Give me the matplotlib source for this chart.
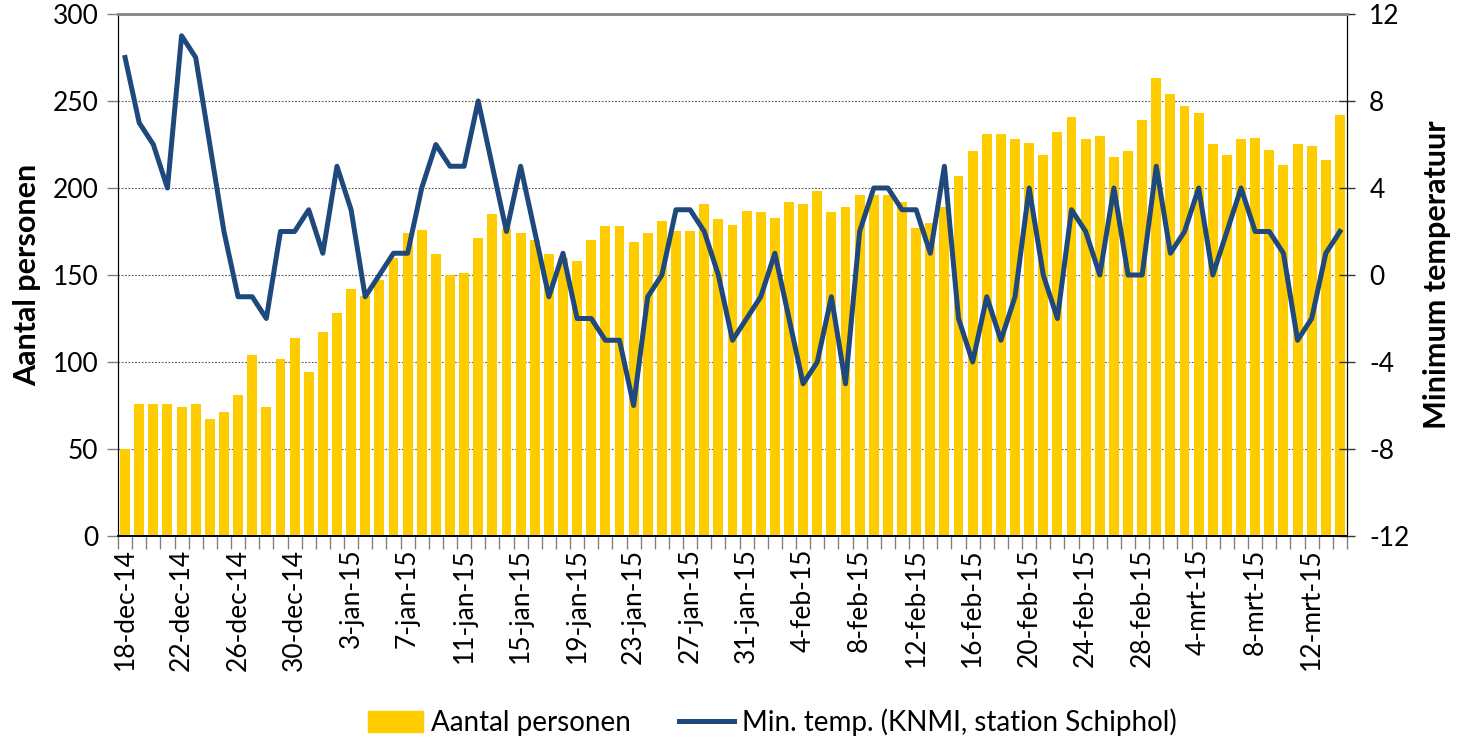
import matplotlib
matplotlib.use("Agg")
import matplotlib.pyplot as plt
import matplotlib.patches as mpatches
import matplotlib.lines as mlines
import numpy as np

plt.rcParams['font.family'] = ['Lato', 'DejaVu Sans']
plt.rcParams['axes.unicode_minus'] = False

# aantal personen per dag, 18-dec-14 t/m 14-mrt-15
personen = [50, 76, 76, 76, 74, 76, 67, 71, 81, 104,
            74, 102, 114, 94, 117, 128, 142, 138, 147, 160,
            174, 176, 162, 150, 151, 171, 185, 177, 174, 170,
            162, 160, 158, 170, 178, 178, 169, 174, 181, 175,
            175, 191, 182, 179, 187, 186, 183, 192, 191, 198,
            186, 189, 196, 196, 196, 192, 177, 180, 189, 207,
            221, 231, 231, 228, 226, 219, 232, 241, 228, 230,
            218, 221, 239, 263, 254, 247, 243, 225, 219, 228,
            229, 222, 213, 225, 224, 216, 242]

# minimum temperatuur (KNMI, Schiphol)
min_temp = [10, 7, 6, 4, 11, 10, 6, 2, -1, -1,
            -2, 2, 2, 3, 1, 5, 3, -1, 0, 1,
            1, 4, 6, 5, 5, 8, 5, 2, 5, 2,
            -1, 1, -2, -2, -3, -3, -6, -1, 0, 3,
            3, 2, 0, -3, -2, -1, 1, -2, -5, -4,
            -1, -5, 2, 4, 4, 3, 3, 1, 5, -2,
            -4, -1, -3, -1, 4, 0, -2, 3, 2, 0,
            4, 0, 0, 5, 1, 2, 4, 0, 2, 4,
            2, 2, 1, -3, -2, 1, 2]

x_labels = ["18-dec-14", "22-dec-14", "26-dec-14", "30-dec-14", "3-jan-15",
            "7-jan-15", "11-jan-15", "15-jan-15", "19-jan-15", "23-jan-15",
            "27-jan-15", "31-jan-15", "4-feb-15", "8-feb-15", "12-feb-15",
            "16-feb-15", "20-feb-15", "24-feb-15", "28-feb-15", "4-mrt-15",
            "8-mrt-15", "12-mrt-15"]

yellow = '#FFCC00'
blue = '#1F497D'

x = np.arange(len(personen))

fig = plt.figure(figsize=(14.6, 7.46), dpi=100)
ax = fig.add_axes([118/1460, 1-536/746, (1347-118)/1460, (536-14)/746])
ax2 = ax.twinx()

ax.bar(x, personen, width=0.7, color=yellow, zorder=2)
ax2.plot(x, min_temp, color=blue, linewidth=3.6, solid_joinstyle='round', zorder=3)

ax.set_xlim(-0.5, len(x) - 0.5)
ax.set_ylim(0, 300)
ax.set_yticks(np.arange(0, 301, 50))
ax2.set_ylim(-12, 12)
ax2.set_yticks(np.arange(-12, 13, 4))
ax2.set_yticklabels([str(v) for v in range(-12, 13, 4)])

# grid
for v in range(50, 300, 50):
    ax.axhline(v, color='#555555', linestyle=(0, (1.5, 1.5)), linewidth=0.8, zorder=1)

# x ticks: labels every 4 days, marks at every category boundary
ax.set_xticks(x[::4])
ax.set_xticklabels(x_labels, rotation=90, fontsize=19)
ax.set_xticks(np.arange(-0.5, len(x), 1), minor=True)
ax.tick_params(axis='x', which='major', length=0, pad=9)
ax.tick_params(axis='x', which='minor', length=9, color='#808080', width=1)

ax.tick_params(axis='y', labelsize=19, length=8, width=1, color='#808080', pad=6)
ax2.tick_params(axis='y', labelsize=19, length=12, width=1, color='#333333',
                direction='inout', pad=10)

for a in (ax, ax2):
    a.spines['top'].set_color('#8c8c8c')
    a.spines['top'].set_linewidth(2)
    a.spines['left'].set_color('black')
    a.spines['right'].set_color('black')
    a.spines['bottom'].set_color('black')
    a.spines['bottom'].set_linewidth(1.2)

ax.set_ylabel('Aantal personen', fontsize=22, fontweight='bold', labelpad=8)
ax2.set_ylabel('Minimum temperatuur', fontsize=22, fontweight='bold', labelpad=10)

bar_patch = mpatches.Patch(color=yellow, label='Aantal personen')
line_handle = mlines.Line2D([], [], color=blue, linewidth=3.6, label='Min. temp. (KNMI, station Schiphol)')
fig.legend(handles=[bar_patch, line_handle], loc='lower center', bbox_to_anchor=(0.529, -0.02),
           ncol=2, frameon=False, fontsize=20, handlelength=2.0, handleheight=0.8,
           columnspacing=1.7, handletextpad=0.3)

fig.savefig('out.png', dpi=100)
